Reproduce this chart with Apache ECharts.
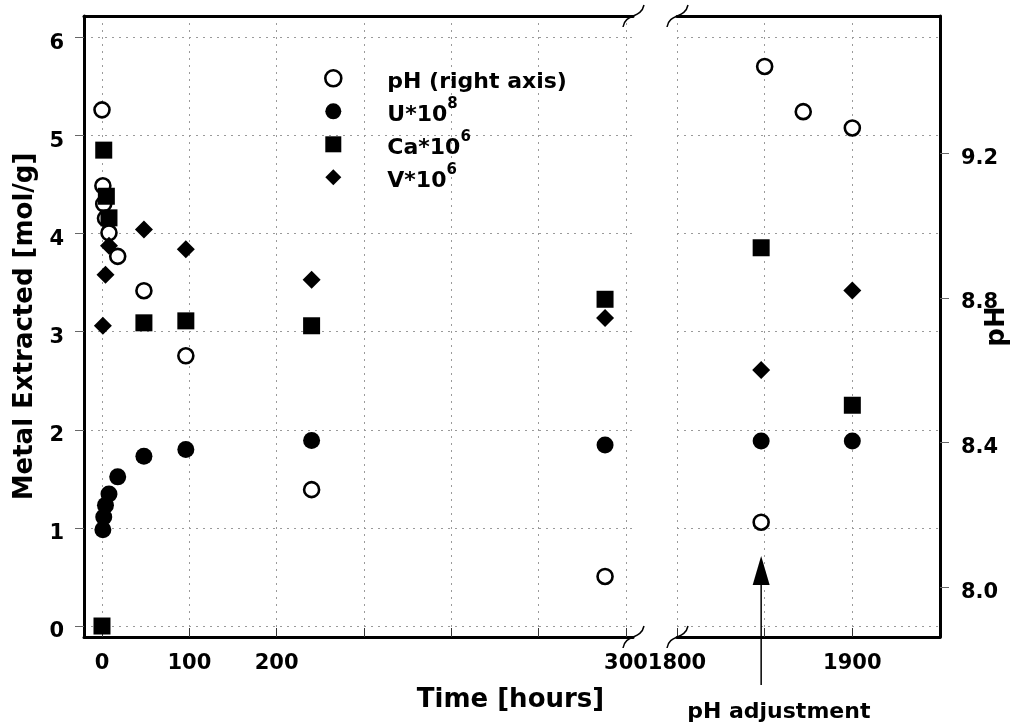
<!DOCTYPE html>
<html><head><meta charset="utf-8">
<script src="https://cdn.jsdelivr.net/npm/echarts@6/dist/echarts.min.js"></script>
<style>html,body{margin:0;padding:0;background:#fff}#c{width:1015px;height:727px}</style>
</head><body><div id="c"></div>
<script>
// ---------------- data ----------------
const phTime  = [0, 0.5, 1, 2, 4, 9, 24, 48, 120, 288, 1848, 1850, 1872, 1900];
const phValue = [9.32, 9.11, 9.06, 9.02, 8.98, 8.915, 8.82, 8.64, 8.27, 8.03, 8.18, 9.44, 9.315, 9.27];
const uTime   = [0.5, 1, 2, 4, 9, 24, 48, 120, 288, 1848, 1900];
const uValue  = [0.98, 1.11, 1.23, 1.345, 1.52, 1.73, 1.80, 1.89, 1.845, 1.885, 1.885];
const caTime  = [0, 1, 2.5, 4, 24, 48, 120, 288, 1848, 1900];
const caValue = [0, 4.85, 4.38, 4.16, 3.09, 3.11, 3.06, 3.33, 3.855, 2.25];
const vTime   = [0.5, 2, 4, 24, 48, 120, 288, 1848, 1900];
const vValue  = [3.06, 3.58, 3.875, 4.04, 3.84, 3.53, 3.14, 2.61, 3.42];
const seriesNames = ['pH (right axis)', 'U*10^8', 'Ca*10^6', 'V*10^6'];

// ---------------- ticks ----------------
const metalTicks = [0, 1, 2, 3, 4, 5, 6];
const phTicks = [8.0, 8.4, 8.8, 9.2];
const leftTimeGrid = [0, 50, 100, 150, 200, 250, 300];
const leftTimeLabelAt = [0, 50, 100, 300];
const leftTimeLabelText = ['0', '100', '200', '300'];
const rightTimeGrid = [1800, 1850, 1900];
const rightTimeLabelAt = [1800, 1900];
const adjustTime = 1848;

(function () {
// axis extents
const leftTimeMin = -10.3, leftTimeMax = 304;
const rightTimeMin = 1800, rightTimeMax = 1950;
const metalMin = -0.112, metalMax = 6.217;
const phMin = 7.8626, phMax = 9.5795;

const FONT = 'DejaVu Sans';
const gridL = {left: 84, top: 16, width: 549, height: 621, outerBoundsMode: 'none', containLabel: false};
const gridR = {left: 677, top: 16, width: 263, height: 621, outerBoundsMode: 'none', containLabel: false};

const chart = echarts.init(document.getElementById('c'));

function pts(t, v, right) {
  const out = [];
  for (let i = 0; i < t.length; i++) if ((t[i] >= 1000) === right) out.push([t[i], v[i]]);
  return out;
}
const dotted = {show: true, lineStyle: {color: '#9a9a9a', width: 1, type: [2, 5]}};
const blackLine = {show: true, onZero: false, lineStyle: {color: '#000', width: 3}};

const markers = [
  {name: seriesNames[0], t: phTime, v: phValue, ph: true, symbol: 'circle', size: 15,
   itemStyle: {color: '#fff', borderColor: '#000', borderWidth: 2.6, opacity: 1}},
  {name: seriesNames[1], t: uTime, v: uValue, symbol: 'circle', size: 17, itemStyle: {color: '#000', opacity: 1}},
  {name: seriesNames[2], t: caTime, v: caValue, symbol: 'rect', size: 17, itemStyle: {color: '#000', opacity: 1}},
  {name: seriesNames[3], t: vTime, v: vValue, symbol: 'diamond', size: 18, itemStyle: {color: '#000', opacity: 1}}
];
const series = [];
markers.forEach(m => {
  [false, true].forEach(right => {
    series.push({
      type: 'scatter', name: m.name, symbol: m.symbol, symbolSize: m.size,
      itemStyle: m.itemStyle,
      xAxisIndex: right ? 2 : 0,
      yAxisIndex: right ? (m.ph ? 3 : 2) : (m.ph ? 1 : 0),
      data: pts(m.t, m.v, right),
      emphasis: {disabled: true}
    });
  });
});

const option = {
  animation: false,
  backgroundColor: '#fff',
  grid: [Object.assign({}, gridL), Object.assign({}, gridR)],
  legend: {
    orient: 'vertical', left: 324, top: 69, padding: 0, itemWidth: 16, itemHeight: 16, itemGap: 3,
    selectedMode: false,
    data: [
      {name: seriesNames[0], icon: 'circle', itemStyle: {color: '#fff', borderColor: '#000', borderWidth: 2.6, opacity: 1}},
      {name: seriesNames[1], icon: 'circle', itemStyle: {color: '#000', opacity: 1}},
      {name: seriesNames[2], icon: 'rect', itemStyle: {color: '#000', opacity: 1}},
      {name: seriesNames[3], icon: 'diamond', itemStyle: {color: '#000', opacity: 1}}
    ],
    formatter: function (name) {
      const m = name.match(/^(.*\*10)\^(\d)$/);
      return m ? '{n|' + m[1] + '}{s|' + m[2] + '}' : '{n|' + name + '}';
    },
    textStyle: {
      color: '#000', fontFamily: FONT, fontWeight: 'bold', fontSize: 22, padding: [0, 0, 0, 41],
      rich: {
        n: {color: '#000', fontFamily: FONT, fontWeight: 'bold', fontSize: 22, lineHeight: 30, verticalAlign: 'bottom'},
        s: {color: '#000', fontFamily: FONT, fontWeight: 'bold', fontSize: 15, lineHeight: 15, verticalAlign: 'top'}
      }
    }
  },
  xAxis: [
    {type: 'value', gridIndex: 0, position: 'bottom', min: leftTimeMin, max: leftTimeMax,
     axisLine: blackLine,
     axisTick: {show: true, inside: true, length: 9, customValues: leftTimeGrid, lineStyle: {color: '#333', width: 1}},
     axisLabel: {customValues: leftTimeLabelAt, margin: 16, color: '#000', fontFamily: FONT, fontWeight: 'bold', fontSize: 21,
       formatter: v => { const i = leftTimeLabelAt.indexOf(v); return i >= 0 ? leftTimeLabelText[i] : ''; }},
     splitLine: dotted,
     name: 'Time [hours]', nameLocation: 'middle', nameGap: 50, nameMoveOverlap: false,
     nameTextStyle: {color: '#000', fontFamily: FONT, fontWeight: 'bold', fontSize: 26, padding: [0, 0, 0, 304]}},
    {type: 'value', gridIndex: 0, position: 'top', min: leftTimeMin, max: leftTimeMax,
     axisLine: blackLine, axisTick: {show: false}, axisLabel: {show: false}, splitLine: {show: false}},
    {type: 'value', gridIndex: 1, position: 'bottom', min: rightTimeMin, max: rightTimeMax,
     axisLine: blackLine,
     axisTick: {show: true, inside: true, length: 9, customValues: rightTimeGrid, lineStyle: {color: '#333', width: 1}},
     axisLabel: {customValues: rightTimeLabelAt, margin: 16, color: '#000', fontFamily: FONT, fontWeight: 'bold', fontSize: 21,
       formatter: v => String(v)},
     splitLine: dotted},
    {type: 'value', gridIndex: 1, position: 'top', min: rightTimeMin, max: rightTimeMax,
     axisLine: blackLine, axisTick: {show: false}, axisLabel: {show: false}, splitLine: {show: false}}
  ],
  yAxis: [
    {type: 'value', gridIndex: 0, position: 'left', min: metalMin, max: metalMax,
     axisLine: blackLine,
     axisTick: {show: true, length: 9, customValues: metalTicks, lineStyle: {color: '#666', width: 1}},
     axisLabel: {customValues: metalTicks, margin: 20, verticalAlign: 'top', lineHeight: 12,
       color: '#000', fontFamily: FONT, fontWeight: 'bold', fontSize: 21},
     splitLine: dotted,
     name: 'Metal Extracted [mol/g]', nameLocation: 'middle', nameGap: 46, nameMoveOverlap: false,
     nameTextStyle: {color: '#000', fontFamily: FONT, fontWeight: 'bold', fontSize: 26}},
    {type: 'value', gridIndex: 0, position: 'right', min: phMin, max: phMax, show: false},
    {type: 'value', gridIndex: 1, position: 'left', min: metalMin, max: metalMax,
     axisLine: {show: false, onZero: false},
     axisTick: {show: false, customValues: metalTicks},
     axisLabel: {show: false, customValues: metalTicks},
     splitLine: dotted},
    {type: 'value', gridIndex: 1, position: 'right', min: phMin, max: phMax,
     axisLine: blackLine,
     axisTick: {show: true, length: 9, customValues: phTicks, lineStyle: {color: '#666', width: 1}},
     axisLabel: {customValues: phTicks, margin: 21, verticalAlign: 'top', lineHeight: 10,
       color: '#000', fontFamily: FONT, fontWeight: 'bold', fontSize: 21,
       formatter: v => v.toFixed(1)},
     splitLine: {show: false},
     name: 'pH', nameLocation: 'middle', nameGap: 44, nameMoveOverlap: false,
     nameTextStyle: {color: '#000', fontFamily: FONT, fontWeight: 'bold', fontSize: 26}}
  ],
  series: series
};
chart.setOption(option);

// ---------- decorations: axis-break marks and the pH-adjustment arrow ----------
function breakMark(cx, cy) {
  return {type: 'bezierCurve', silent: true, z: 10,
    shape: {x1: cx - 10, y1: cy + 11, cpx1: cx - 8, cpy1: cy - 3, cpx2: cx + 8, cpy2: cy + 3, x2: cx + 11, y2: cy - 11},
    style: {stroke: '#000', lineWidth: 1.5, fill: null}};
}
const lRight = gridL.left + gridL.width, rLeft = gridR.left;
const gTop = gridL.top, gBottom = gridL.top + gridL.height;
const ax = chart.convertToPixel({xAxisIndex: 2}, adjustTime);
chart.setOption({
  graphic: [
    breakMark(lRight, gTop), breakMark(lRight, gBottom), breakMark(rLeft, gTop), breakMark(rLeft, gBottom),
    {type: 'line', silent: true, z: 10, shape: {x1: ax, y1: gBottom + 48, x2: ax, y2: gBottom - 54},
     style: {stroke: '#000', lineWidth: 1.5}},
    {type: 'polygon', silent: true, z: 10,
     shape: {points: [[ax, gBottom - 81], [ax - 8.5, gBottom - 52], [ax + 8.5, gBottom - 52]]},
     style: {fill: '#000'}},
    {type: 'text', silent: true, z: 10, x: ax - 74, y: gBottom + 75,
     style: {text: 'pH adjustment', fill: '#000', font: 'bold 22px "DejaVu Sans"', textAlign: 'left', textVerticalAlign: 'middle'}}
  ]
});
})();
</script>
</body></html>
